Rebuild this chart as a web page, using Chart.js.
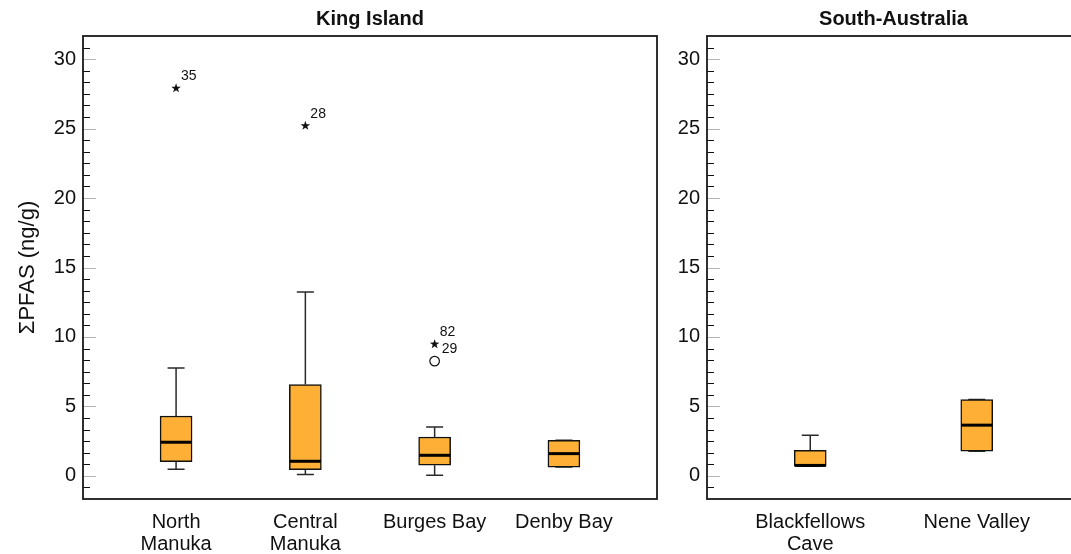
<!DOCTYPE html>
<html>
<head>
<meta charset="utf-8">
<script src="https://cdn.jsdelivr.net/npm/chart.js@4.4.1/dist/chart.umd.min.js"></script>
<style>
  html, body { margin: 0; padding: 0; background: #fff; overflow: hidden; }
  #wrap { position: relative; width: 1071px; height: 554px; overflow: hidden; }
  #kiChart { position: absolute; left: 0; top: 0; }
  #saChart { position: absolute; left: 630px; top: 0; }
</style>
</head>
<body>
<div id="wrap">
  <canvas id="kiChart" width="680" height="554"></canvas>
  <canvas id="saChart" width="460" height="554"></canvas>
</div>
<script>
// King Island sites
const kiSites = [['North', 'Manuka'], ['Central', 'Manuka'], 'Burges Bay', 'Denby Bay'];
const kiMin = [0.47, 0.09, 0.04, 0.63];
const kiQ1 = [1.02, 0.45, 0.76, 0.63];
const kiMedian = [2.42, 1.05, 1.48, 1.6];
const kiQ3 = [4.31, 6.57, 2.8, 2.56];
const kiMax = [7.77, 13.23, 3.52, 2.56];

// outliers (site number, value, case id, marker)
const kiOutSite = [1, 2, 3, 3];
const kiOutValue = [27.9, 25.2, 9.48, 8.26];
const kiOutId = ['35', '28', '82', '29'];
const kiOutKind = ['star', 'star', 'star', 'circle'];

// South-Australia sites
const saSites = [['Blackfellows', 'Cave'], 'Nene Valley'];
const saMin = [0.7, 1.78];
const saQ1 = [0.7, 1.78];
const saMedian = [0.75, 3.65];
const saQ3 = [1.83, 5.5];
const saMax = [2.93, 5.5];

const yTicks = [0, 5, 10, 15, 20, 25, 30];
const yMinorStep = 5 / 6;

const FONT = "'Liberation Sans', Arial, sans-serif";
Chart.defaults.font.family = FONT;
Chart.defaults.color = '#111';

const drawStar = (ctx, x, y) => {
  ctx.beginPath();
  for (let k = 0; k < 10; k++) {
    const r = k % 2 === 0 ? 5 : 2;
    const a = -Math.PI / 2 + k * Math.PI / 5;
    ctx.lineTo(x + r * Math.cos(a), y + r * Math.sin(a));
  }
  ctx.closePath();
  ctx.fill();
};

// whiskers, medians, outliers
const makeBoxPlugin = (s) => ({
  id: 'boxExtras',
  beforeDatasetsDraw(chart) {
    const { ctx, scales: { x, y } } = chart;
    ctx.save();
    ctx.strokeStyle = '#2a2a2a';
    ctx.lineWidth = 1.5;
    s.min.forEach((lo, i) => {
      const px = x.getPixelForValue(i + 1);
      const yHi = y.getPixelForValue(s.max[i]);
      const yLo = y.getPixelForValue(lo);
      ctx.beginPath();
      ctx.moveTo(px, yHi); ctx.lineTo(px, y.getPixelForValue(s.q3[i]));
      ctx.moveTo(px, y.getPixelForValue(s.q1[i])); ctx.lineTo(px, yLo);
      ctx.moveTo(px - 8.5, yHi); ctx.lineTo(px + 8.5, yHi);
      ctx.moveTo(px - 8.5, yLo); ctx.lineTo(px + 8.5, yLo);
      ctx.stroke();
    });
    ctx.restore();
  },
  afterDatasetsDraw(chart) {
    const { ctx, scales: { x, y } } = chart;
    ctx.save();
    ctx.strokeStyle = '#000';
    ctx.lineWidth = 3;
    s.median.forEach((m, i) => {
      const px = x.getPixelForValue(i + 1);
      const py = y.getPixelForValue(m);
      ctx.beginPath();
      ctx.moveTo(px - 15.5, py); ctx.lineTo(px + 15.5, py);
      ctx.stroke();
    });
    ctx.fillStyle = '#111';
    ctx.strokeStyle = '#111';
    ctx.lineWidth = 1.2;
    ctx.font = '14px ' + FONT;
    ctx.textAlign = 'left';
    ctx.textBaseline = 'alphabetic';
    (s.outSite || []).forEach((site, j) => {
      const px = x.getPixelForValue(site);
      const py = y.getPixelForValue(s.outValue[j]);
      if (s.outKind[j] === 'star') {
        drawStar(ctx, px, py);
        ctx.fillText(s.outId[j], px + 5, py - 8);
      } else {
        ctx.beginPath();
        ctx.arc(px, py, 4.8, 0, Math.PI * 2);
        ctx.stroke();
        ctx.fillText(s.outId[j], px + 7, py - 8);
      }
    });
    ctx.restore();
  }
});

// frame and inside tick marks
const frameTicks = {
  id: 'frameTicks',
  afterDraw(chart) {
    const { ctx, chartArea: a, scales: { y } } = chart;
    ctx.save();
    for (let k = Math.ceil(y.min / yMinorStep); k * yMinorStep < y.max - 0.01; k++) {
      const v = k * yMinorStep;
      if (v <= y.min + 0.01) continue;
      const py = Math.round(y.getPixelForValue(v)) + 0.5;
      const major = k % 6 === 0;
      ctx.strokeStyle = major ? '#b4b4b4' : '#111';
      ctx.lineWidth = 1;
      ctx.beginPath();
      ctx.moveTo(a.left, py);
      ctx.lineTo(a.left + (major ? 13 : 7), py);
      ctx.stroke();
    }
    ctx.strokeStyle = '#1a1a1a';
    ctx.lineWidth = 1.8;
    ctx.strokeRect(a.left, a.top, a.right - a.left, a.bottom - a.top);
    ctx.restore();
  }
};

const renderPanel = (id, title, sites, s, cfg) => {
  const ctx = document.getElementById(id);
  return new Chart(ctx, {
    type: 'bar',
    data: {
      datasets: [
        {
          data: s.q1.map((q, i) => ({ x: i + 1, y: [q, s.q3[i]] })),
          backgroundColor: '#FDB035',
          borderColor: '#111',
          borderWidth: 1.5,
          borderSkipped: false,
          barThickness: 32,
          grouped: false
        }
      ]
    },
    options: {
      responsive: false,
      animation: false,
      devicePixelRatio: 1,
      layout: { padding: { left: 0, right: cfg.padRight, top: 0, bottom: 0 } },
      plugins: {
        legend: { display: false },
        tooltip: { enabled: false },
        title: {
          display: true,
          text: title,
          fullSize: false,
          font: { size: 20, weight: 'bold', lineHeight: 1.2 },
          color: '#111',
          padding: { top: 7.5, bottom: 4.5 }
        }
      },
      scales: {
        x: {
          type: 'linear',
          offset: false,
          min: cfg.xMin,
          max: cfg.xMax,
          afterBuildTicks: (sc) => { sc.ticks = sites.map((_, i) => ({ value: i + 1 })); },
          afterFit: (sc) => { sc.height = 55; },
          grid: { display: false, drawTicks: false, tickLength: 0 },
          border: { display: false },
          ticks: {
            padding: 12,
            autoSkip: false,
            maxRotation: 0,
            color: '#111',
            font: { size: 20, lineHeight: 1.12 },
            callback: (v) => sites[v - 1]
          }
        },
        y: {
          min: -5 / 3,
          max: 95 / 3,
          afterBuildTicks: (sc) => { sc.ticks = yTicks.map((v) => ({ value: v })); },
          afterFit: (sc) => { sc.width = cfg.axisW; },
          grid: { display: false, drawTicks: false, tickLength: 0 },
          border: { display: false },
          ticks: { padding: 7, color: '#111', font: { size: 20 } },
          title: {
            display: cfg.yTitle,
            text: 'ΣPFAS (ng/g)',
            color: '#111',
            font: { size: 22 },
            padding: { top: 15, bottom: 0 }
          }
        }
      }
    },
    plugins: [makeBoxPlugin(s), frameTicks]
  });
};

window.addEventListener('load', () => {
  renderPanel('kiChart', 'King Island', kiSites, {
    min: kiMin, q1: kiQ1, median: kiMedian, q3: kiQ3, max: kiMax,
    outSite: kiOutSite, outValue: kiOutValue, outId: kiOutId, outKind: kiOutKind
  }, { xMin: 0.28, xMax: 4.72, axisW: 83, padRight: 23, yTitle: true });

  renderPanel('saChart', 'South-Australia', saSites, {
    min: saMin, q1: saQ1, median: saMedian, q3: saQ3, max: saMax
  }, { xMin: 0.38, xMax: 2.62, axisW: 77, padRight: 10, yTitle: false });
});
</script>
</body>
</html>
